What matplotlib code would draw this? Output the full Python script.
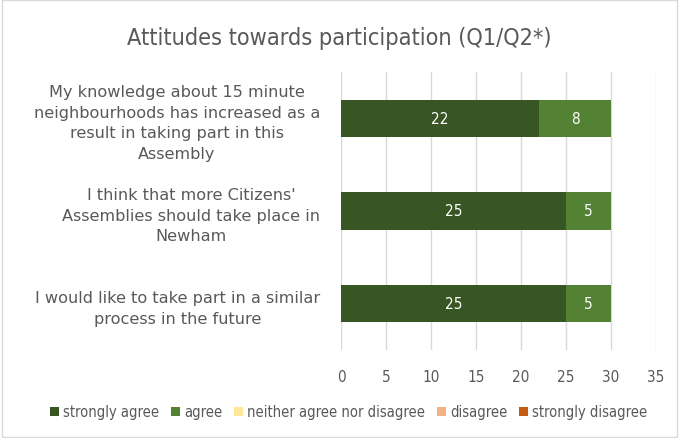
import matplotlib
matplotlib.use('Agg')
import matplotlib.pyplot as plt
from matplotlib.patches import Rectangle

categories = [
    'My knowledge about 15 minute\nneighbourhoods has increased as a\nresult in taking part in this\nAssembly',
    "I think that more Citizens'\nAssemblies should take place in\nNewham",
    'I would like to take part in a similar\nprocess in the future',
]
series_names = ['strongly agree', 'agree', 'neither agree nor disagree', 'disagree', 'strongly disagree']
series_values = [
    [22, 25, 25],
    [8, 5, 5],
    [0, 0, 0],
    [0, 0, 0],
    [0, 0, 0],
]
series_colors = ['#375623', '#548235', '#FFE699', '#F4B183', '#C55A11']
x_ticks = [0, 5, 10, 15, 20, 25, 30, 35]

plt.rcParams['font.family'] = ['DejaVu Sans']
text_col = '#595959'

fig = plt.figure(figsize=(6.79, 4.39), dpi=100)
ax = fig.add_axes([341 / 679, 1 - 351 / 439, (656 - 341) / 679, (351 - 73) / 439])

# border around chart
fig.patches.append(Rectangle((0.003, 0.003), 0.994, 0.994, transform=fig.transFigure,
                             fill=False, edgecolor='#D9D9D9', linewidth=1))

ypos = [2, 1, 0]
left = [0, 0, 0]
for name, vals, col in zip(series_names, series_values, series_colors):
    bars = ax.barh(ypos, vals, left=left, height=0.4, color=col, label=name, zorder=3)
    for b, v, l in zip(bars, vals, left):
        if v > 0:
            ax.text(l + v / 2, b.get_y() + b.get_height() / 2, str(v), ha='center', va='center',
                    color='white', fontsize=11, fontstretch='condensed', zorder=4)
    left = [a + b for a, b in zip(left, vals)]

ax.set_xlim(0, 35)
ax.set_ylim(-0.5, 2.5)
ax.set_xticks(x_ticks)
ax.set_xticklabels([str(t) for t in x_ticks], color=text_col, fontsize=11, fontstretch='condensed')
ax.tick_params(axis='x', length=0, pad=14)
ax.set_yticks(ypos)
ax.set_yticklabels(categories, color=text_col, fontsize=11.6, linespacing=1.45, multialignment='center')
ax.tick_params(axis='y', length=0, pad=15)
ax.grid(axis='x', color='#D9D9D9', linewidth=1, zorder=0)
for s in ax.spines.values():
    s.set_visible(False)

fig.text(0.5, 1 - 38 / 439, 'Attitudes towards participation (Q1/Q2*)', ha='center', va='center',
         fontsize=16.8, color=text_col, fontstretch='condensed')

leg = fig.legend(loc='center', bbox_to_anchor=(349 / 679, 1 - 413 / 439), ncol=5, frameon=False,
                 prop={'size': 10.5, 'stretch': 'condensed'}, handlelength=0.6, handleheight=0.6,
                 handletextpad=0.3, columnspacing=0.8, labelcolor=text_col)

fig.savefig('out.png', dpi=100)
